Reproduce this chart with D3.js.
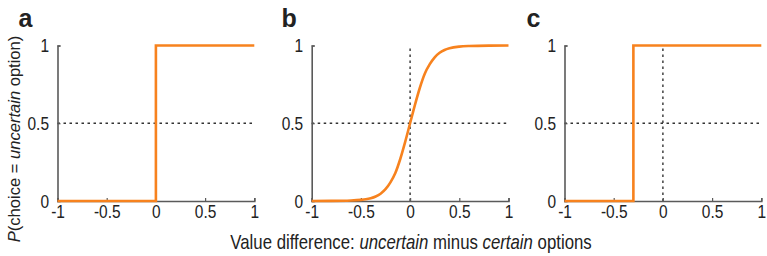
<!DOCTYPE html>
<html><head><meta charset="utf-8">
<script src="https://cdn.jsdelivr.net/npm/d3@7"></script>
<style>
body{margin:0;background:#fff;}
svg{display:block;}
text{font-family:"Liberation Sans",Arial,sans-serif;fill:#222;}
</style></head>
<body><svg id="c" width="767" height="256"></svg>
<script>
// ---- data ----
const xTicks = [-1, -0.5, 0, 0.5, 1];
const yTicks = [0, 0.5, 1];
const xTickLabels = ["-1", "-0.5", "0", "0.5", "1"];
const yTickLabels = ["0", "0.5", "1"];
const panelLabels = ["a", "b", "c"];
// panel a: deterministic step at 0
const stepAx = [-1, 0, 0, 1];
const stepAy = [0, 0, 1, 1];
// panel b: smooth psychometric curve
const sigX = [-1, -0.8, -0.6, -0.5, -0.45, -0.4, -0.35, -0.3, -0.25, -0.2, -0.15, -0.1, -0.05, 0, 0.05, 0.1, 0.15, 0.2, 0.25, 0.3, 0.35, 0.4, 0.5, 0.6, 0.8, 1];
const sigY = [0, 0.0005, 0.003, 0.007, 0.011, 0.018, 0.029, 0.047, 0.076, 0.12, 0.18, 0.27, 0.38, 0.5, 0.62, 0.73, 0.82, 0.88, 0.924, 0.953, 0.971, 0.982, 0.993, 0.997, 0.9995, 1];
// panel c: step shifted to -0.3
const stepCx = [-1, -0.3, -0.3, 1];
const stepCy = [0, 0, 1, 1];

(function(){
const series = [
  {x: stepAx, y: stepAy, vline: false, curve: d3.curveLinear},
  {x: sigX, y: sigY, vline: true, curve: d3.curveMonotoneX},
  {x: stepCx, y: stepCy, vline: true, curve: d3.curveLinear}
];
const panelX = [57.5, 311.7, 564.5];
const panelW = 196.8;
const plotTop = 45.5, plotBottom = 201;
const orange = "#F7821E";
const axisCol = "#5a5a5a";
const sx = 0.84; // horizontal condensation of the text
const tsx = 0.86;

const svg = d3.select("#c");
const y = d3.scaleLinear().domain([0, 1]).range([plotBottom, plotTop]);

series.forEach((s, i) => {
  const x0 = panelX[i];
  const x = d3.scaleLinear().domain([-1, 1]).range([x0, x0 + panelW]);
  const g = svg.append("g");

  g.append("line").attr("x1", x(-1)).attr("x2", x(1)).attr("y1", y(0.5)).attr("y2", y(0.5))
    .attr("stroke", "#333").attr("stroke-width", 1.4).attr("stroke-dasharray", "2.5,3.5");
  if (s.vline) {
    g.append("line").attr("x1", x(0)).attr("x2", x(0)).attr("y1", y(0)).attr("y2", y(1))
      .attr("stroke", "#333").attr("stroke-width", 1.4).attr("stroke-dasharray", "2.5,3.5");
  }

  const xa = g.append("g").attr("transform", `translate(0,${y(0)})`)
    .call(d3.axisBottom(x).tickValues(xTicks).tickFormat((d, j) => xTickLabels[j]).tickSize(-3).tickPadding(6));
  const ya = g.append("g").attr("transform", `translate(${x(-1)},0)`)
    .call(d3.axisLeft(y).tickValues(yTicks).tickFormat((d, j) => yTickLabels[j]).tickSize(-3).tickPadding(10));
  [xa, ya].forEach(a => {
    a.select(".domain").attr("stroke", axisCol).attr("stroke-width", 1.6);
    a.selectAll(".tick line").attr("stroke", axisCol).attr("stroke-width", 1.2);
    a.selectAll(".tick text").attr("font-size", 18).attr("fill", "#222")
      .attr("font-family", '"Liberation Sans",Arial,sans-serif');
  });
  xa.selectAll(".tick text").attr("dy", "0.71em").attr("y", 4.5).attr("transform", `scale(${tsx},1)`);
  ya.selectAll(".tick text").attr("x", -8.5 / tsx).attr("dy", "0.36em").attr("transform", `scale(${tsx},1)`);

  const pts = s.x.map((v, j) => [v, s.y[j]]);
  g.append("path").datum(pts)
    .attr("d", d3.line().x(d => x(d[0])).y(d => y(d[1])).curve(s.curve))
    .attr("fill", "none").attr("stroke", orange).attr("stroke-width", 2.6)
    .attr("stroke-linejoin", "miter").attr("stroke-linecap", "butt");

  svg.append("text").attr("x", [18.5, 281.5, 526.5][i]).attr("y", 27)
    .attr("font-weight", "bold")
    .attr("font-size", 25).attr("fill", "#111").text(panelLabels[i]);
});

const yl = svg.append("text").attr("transform", `translate(19.5,139) rotate(-90) scale(0.92,0.9)`)
  .attr("text-anchor", "middle").attr("font-size", 18);
yl.append("tspan").attr("font-style", "italic").text("P");
yl.append("tspan").text("(choice = ");
yl.append("tspan").attr("font-style", "italic").text("uncertain");
yl.append("tspan").text(" option)");

const xl = svg.append("text").attr("transform", `translate(411,249) scale(${sx},1)`)
  .attr("text-anchor", "middle").attr("font-size", 20);
xl.append("tspan").text("Value difference: ");
xl.append("tspan").attr("font-style", "italic").text("uncertain");
xl.append("tspan").text(" minus ");
xl.append("tspan").attr("font-style", "italic").text("certain");
xl.append("tspan").text(" options");
})();
</script></body></html>
